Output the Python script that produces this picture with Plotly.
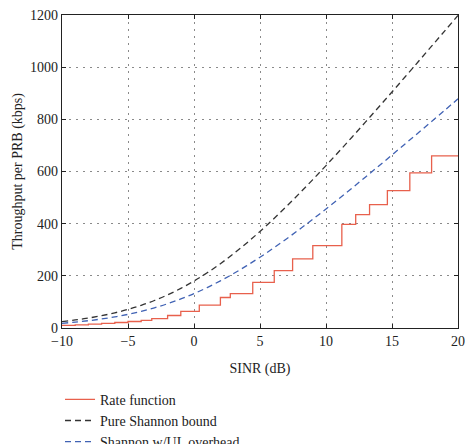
import plotly.graph_objects as go

# SINR grid (dB) for the Shannon curves
sinr_db = [-10, -9, -8, -7, -6, -5, -4, -3, -2, -1, 0, 1, 2, 3, 4, 5, 6, 7, 8, 9,
           10, 11, 12, 13, 14, 15, 16, 17, 18, 19, 20]
pure_shannon = [24.7, 30.8, 38.2, 47.2, 58.2, 71.4, 87.0, 105.5, 127.0, 151.8, 180.0,
                211.6, 246.6, 284.9, 326.2, 370.3, 417.0, 465.8, 516.6, 568.9, 622.7,
                677.6, 733.4, 790.0, 847.3, 905.0, 963.2, 1021.6, 1080.4, 1139.3, 1198.5]
shannon_ul = [18.1, 22.6, 28.0, 34.6, 42.7, 52.3, 63.8, 77.3, 93.1, 111.3, 131.9,
              155.1, 180.8, 208.8, 239.1, 271.4, 305.7, 341.4, 378.7, 417.0, 456.4,
              496.7, 537.6, 579.1, 621.1, 663.4, 706.0, 748.8, 791.9, 835.1, 878.5]

# Rate function: step thresholds (dB) and values (kbps)
rate_x = [-10, -9, -8, -7, -6, -5, -4, -3.2, -2.0, -1.0, 0.4, 2.0, 2.75, 4.45, 6.08,
          7.47, 9.0, 11.2, 12.25, 13.3, 14.65, 16.35, 18.0, 20]
rate_y = [10, 12, 15, 18, 21, 25, 29, 36, 48, 64, 88, 117, 132, 175, 220,
          265, 316, 397, 435, 473, 527, 595, 660, 660]

x_ticks = [-10, -5, 0, 5, 10, 15, 20]
y_ticks = [0, 200, 400, 600, 800, 1000, 1200]

FONT = "Liberation Serif"
TXT = "#222222"

fig = go.Figure()
fig.add_trace(go.Scatter(x=rate_x, y=rate_y, mode="lines", line_shape="hv",
                         name="Rate function",
                         line=dict(color="#e8604c", width=1.3)))
fig.add_trace(go.Scatter(x=sinr_db, y=pure_shannon, mode="lines", line_shape="spline",
                         name="Pure Shannon bound",
                         line=dict(color="#333333", width=1.3, dash="6px,4px")))
fig.add_trace(go.Scatter(x=sinr_db, y=shannon_ul, mode="lines", line_shape="spline",
                         name="Shannon w/UL overhead",
                         line=dict(color="#4062b4", width=1.3, dash="6px,4px")))

axis_common = dict(showline=True, linecolor="#222222", linewidth=1.2, mirror="ticks",
                   ticks="inside", ticklen=4, tickcolor="#222222",
                   showgrid=True, gridcolor="#8a8a8a", griddash="1.5px,5.5px", gridwidth=1.2,
                   zeroline=False, tickfont=dict(family=FONT, size=14, color=TXT))

fig.update_xaxes(range=[-10, 20], tickvals=x_ticks,
                 title=dict(text="SINR (dB)", font=dict(family=FONT, size=14, color=TXT)),
                 **axis_common)
fig.update_yaxes(range=[0, 1200], tickvals=y_ticks, **axis_common)

fig.add_annotation(text="Throughput per PRB (kbps)", textangle=-90,
                   xref="paper", yref="paper", x=-0.113, y=0.5,
                   xanchor="center", yanchor="middle", showarrow=False,
                   font=dict(family=FONT, size=14, color=TXT))

fig.update_layout(
    width=465, height=444,
    margin=dict(l=62, r=7, t=15, b=116, autoexpand=False),
    plot_bgcolor="white", paper_bgcolor="white",
    font=dict(family=FONT, size=14, color=TXT),
    legend=dict(x=-0.005, xanchor="left", y=-0.178, yanchor="top",
                bgcolor="rgba(0,0,0,0)", tracegroupgap=0, itemwidth=30,
                font=dict(family=FONT, size=14, color=TXT)),
    showlegend=True,
)

fig.write_html("out.html")
